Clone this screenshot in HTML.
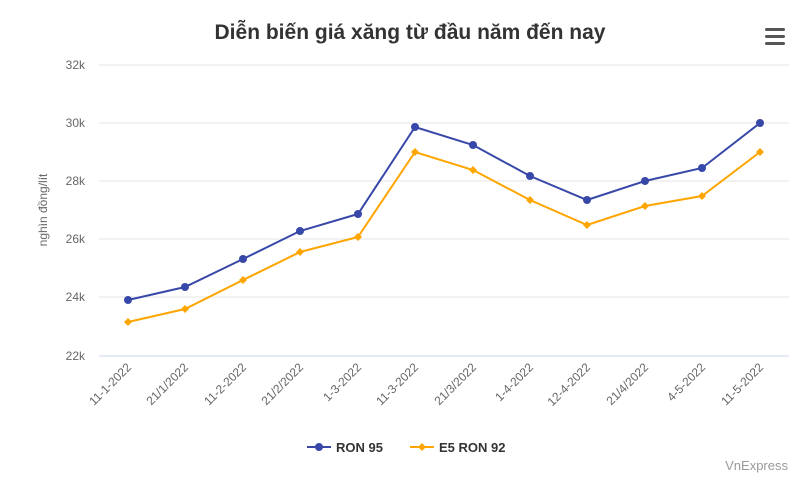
<!DOCTYPE html>
<html><head><meta charset="utf-8"><style>
body{margin:0;background:#fff;}
svg{display:block;font-family:"Liberation Sans",Arial,sans-serif;}
</style></head><body>
<svg width="800" height="478" viewBox="0 0 800 478">
<rect width="800" height="478" fill="#fff"/>
<text x="410" y="39" text-anchor="middle" font-size="21" font-weight="bold" fill="#333">Diễn biến giá xăng từ đầu năm đến nay</text>
<g fill="#555"><rect x="765" y="28" width="20" height="3" rx="1.5"/><rect x="765" y="35" width="20" height="3" rx="1.5"/><rect x="765" y="42" width="20" height="3" rx="1.5"/></g>
<g stroke="#e6e6e6" stroke-width="1">
<line x1="99" x2="789" y1="65" y2="65"/><line x1="99" x2="789" y1="123" y2="123"/><line x1="99" x2="789" y1="181" y2="181"/><line x1="99" x2="789" y1="239" y2="239"/><line x1="99" x2="789" y1="297" y2="297"/>
</g>
<line x1="99" x2="789" y1="356" y2="356" stroke="#ccd6eb"/>
<g font-size="12" fill="#666" text-anchor="end">
<text x="85" y="69">32k</text><text x="85" y="127">30k</text><text x="85" y="185">28k</text><text x="85" y="243">26k</text><text x="85" y="301">24k</text><text x="85" y="360">22k</text>
</g>
<text transform="translate(47,210) rotate(-90)" text-anchor="middle" font-size="12" fill="#666">nghìn đồng/lít</text>
<g font-size="12" fill="#666" text-anchor="end">
<text transform="translate(132,368) rotate(-45)">11-1-2022</text>
<text transform="translate(189,368) rotate(-45)">21/1/2022</text>
<text transform="translate(247,368) rotate(-45)">11-2-2022</text>
<text transform="translate(304,368) rotate(-45)">21/2/2022</text>
<text transform="translate(362,368) rotate(-45)">1-3-2022</text>
<text transform="translate(419,368) rotate(-45)">11-3-2022</text>
<text transform="translate(477,368) rotate(-45)">21/3/2022</text>
<text transform="translate(534,368) rotate(-45)">1-4-2022</text>
<text transform="translate(591,368) rotate(-45)">12-4-2022</text>
<text transform="translate(649,368) rotate(-45)">21/4/2022</text>
<text transform="translate(706,368) rotate(-45)">4-5-2022</text>
<text transform="translate(764,368) rotate(-45)">11-5-2022</text>
</g>
<polyline fill="none" stroke="#ffa500" stroke-width="2" points="128,322 185,309 243,280 300,252 358,237 415,152 473,170 530,200 587,225 645,206 702,196 760,152"/>
<g fill="#ffa500">
<path d="M128,318 l4,4 -4,4 -4,-4z"/><path d="M185,305 l4,4 -4,4 -4,-4z"/><path d="M243,276 l4,4 -4,4 -4,-4z"/><path d="M300,248 l4,4 -4,4 -4,-4z"/><path d="M358,233 l4,4 -4,4 -4,-4z"/><path d="M415,148 l4,4 -4,4 -4,-4z"/><path d="M473,166 l4,4 -4,4 -4,-4z"/><path d="M530,196 l4,4 -4,4 -4,-4z"/><path d="M587,221 l4,4 -4,4 -4,-4z"/><path d="M645,202 l4,4 -4,4 -4,-4z"/><path d="M702,192 l4,4 -4,4 -4,-4z"/><path d="M760,148 l4,4 -4,4 -4,-4z"/>
</g>
<polyline fill="none" stroke="#3848a8" stroke-width="2" points="128,300 185,287 243,259 300,231 358,214 415,127 473,145 530,176 587,200 645,181 702,168 760,123"/>
<g fill="#3848a8">
<circle cx="128" cy="300" r="4"/><circle cx="185" cy="287" r="4"/><circle cx="243" cy="259" r="4"/><circle cx="300" cy="231" r="4"/><circle cx="358" cy="214" r="4"/><circle cx="415" cy="127" r="4"/><circle cx="473" cy="145" r="4"/><circle cx="530" cy="176" r="4"/><circle cx="587" cy="200" r="4"/><circle cx="645" cy="181" r="4"/><circle cx="702" cy="168" r="4"/><circle cx="760" cy="123" r="4"/>
</g>
<line x1="307" x2="331" y1="447" y2="447" stroke="#3848a8" stroke-width="2"/><circle cx="319" cy="447" r="4" fill="#3848a8"/>
<text x="336" y="452" font-size="13" font-weight="bold" fill="#333">RON 95</text>
<line x1="410" x2="434" y1="447" y2="447" stroke="#ffa500" stroke-width="2"/><path d="M422,443 l4,4 -4,4 -4,-4z" fill="#ffa500"/>
<text x="439" y="452" font-size="13" font-weight="bold" fill="#333">E5 RON 92</text>
<text x="788" y="470" text-anchor="end" font-size="13" fill="#999">VnExpress</text>
</svg>
</body></html>
